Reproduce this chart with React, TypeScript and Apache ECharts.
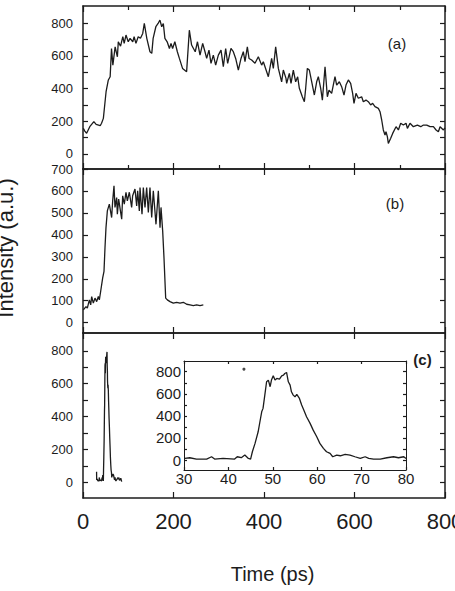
import React, { useEffect, useRef } from 'react';
import * as echarts from 'echarts';

// ---- Data (time in ps, intensity in a.u.) ----
const panelAData: [number, number][] = [
  [0.7,157],[4,140],[8,127],[15,167],[24,198],[29,181],[38,173],[41,188],[45,218],[48,300],[51,381],[56,453],[60,473],[63,646],[66,544],[71,656],[76,595],[78,687],[83,660],[88,718],[91,677],[95,728],[100,687],[104,708],[110,687],[113,718],[117,677],[122,718],[127,708],[132,738],[135.5,799],[141,708],[148,626],[152,616],[155,708],[161,779],[166,799],[170,820],[174,779],[177.5,799],[181,708],[186,687],[191,646],[194.5,677],[198,646],[203,687],[208.5,626],[213,585],[220,524],[229,504],[235,758],[240,667],[248,626],[253,687],[258.6,605],[264.5,677],
  [269.6,626],[273.3,585],[278.4,636],[282.9,555],[288,605],[293.2,544],[299.1,605],[305,636],[310.1,534],[315.3,646],[319.7,555],[327,646],[332.2,626],[337.4,585],[343.3,514],[349.2,585],[354.3,626],[358,565],[363.2,656],[366.9,585],[372.7,575],[380.1,555],[387.5,595],[394.8,544],[398.5,565],[409.6,473],[416.9,585],[420.6,524],[425.8,656],[431.7,524],[439,442],[442.7,514],[448.6,463],[450.1,432],[456,493],[459.7,432],[464.8,514],[470,442],[474.4,473],[478.1,402],[484.7,350],[489.2,320],[492.1,402],[495.8,524],[500.2,514],[506.9,422],[511.3,361],[516.4,442],[520.1,473],[525.3,402],[529,330],[534.9,534],[540,350],[543.7,391],
  [549.5,371],[556.9,473],[560.6,422],[566.5,442],[571.6,412],[576.8,361],[581.2,422],[586.4,453],[591.5,432],[595.9,371],[598.9,310],[603.3,371],[608.5,341],[615.8,350],[619.5,320],[625.4,330],[630.5,320],[635.7,300],[640.1,310],[645.3,290],[652.7,279],[656.4,259],[660.1,208],[663.7,147],[667.4,116],[669.6,136],[672.6,106],[674.8,65],[680,96],[684.4,126],[691.8,167],[697,147],[702.1,188],[708,177],[713.9,188],[716.9,157],[722.7,188],[730.1,167],[739,177],[746.4,167],[752.3,177],[759.6,177],[767,167],[774.4,167],[780.3,147],[785.4,136],[789.1,167],[796.5,147],[800,160]
];

const panelBData: [number, number][] = [
  [0.7,58],[6.6,73],[9.6,66],[14,104],[17,81],[19.2,119],[22.8,89],[26.5,112],[30.2,96],[33.9,119],[36.1,104],[39,142],[43.5,204],[46.4,234],[48.6,341],[50.8,433],[53.8,509],[58.2,540],[63.3,479],[65.6,555],[68.5,624],[70.7,525],[74.4,570],[75.9,494],[78.8,563],[85.5,471],[87.7,578],[91.3,540],[95,594],[98,555],[102.4,594],[107.5,525],[109.7,578],[114.9,609],[118.6,532],[120.8,601],[124.5,509],[126,616],[130.4,494],[133.3,616],[137,525],[140.7,616],[144.4,502],[148,616],[151.8,479],[155.4,601],[161.3,448],[166.5,601],[170.2,433],[172.4,525],[176.1,417],[179,295],[182.7,112],[186.4,104],[192.3,96],[199.6,89],[207,93],[214.4,89],[221.7,93],[229.1,84],[236.5,81],[243.8,78],[251.2,81],[258.6,78],[265.9,81]
];

const panelCData: [number, number][] = [
  [30.2,15],[31.3,21],[32.8,9],[35.1,9],[36.2,30],[36.9,9],[38.8,15],[41.4,9],[42,30],[42.9,21],[43.7,45],[44.5,15],[45,9],[45.4,75],[46,151],[46.7,256],[47.1,347],[47.5,437],[47.8,468],[48.2,588],[48.6,709],[49,724],[49.4,664],[49.7,724],[50.1,763],[50.5,724],[50.9,739],[51.5,733],[52,763],[52.4,769],[52.7,784],[53.1,793],[53.5,709],[53.9,679],[54.2,618],[54.6,588],[55,573],[55.4,594],[56,558],[56.5,498],[57,452],[57.6,392],[58.4,332],[59.1,271],[59.9,211],[60.6,151],[61.4,106],[62.1,75],[62.9,60],[63.5,30],[64.4,45],[65.2,39],[66.3,51],[67.4,45],[68.5,30],[69.7,15],[70.8,30],[71.6,15],[72.7,9],[74.2,9],[75.7,21],[77.2,30],[78.3,21],[79.5,30],[80,15]
];
const panelCHead: [number, number][] = [[30, 64]];
const panelCTail: [number, number][] = [[81.7,14],[83.5,25],[85.5,5]];
const insetDot: [number, number][] = [[43.5, 823]];

const timeTicks = [0, 200, 400, 600, 800];
const aYLabels = [0, 200, 400, 600, 800];
const aYTicks = [0, 100, 200, 300, 400, 500, 600, 700, 800];
const bYLabels = [0, 100, 200, 300, 400, 500, 600, 700];
const cYLabels = [0, 200, 400, 600, 800];
const cYTicks = [0, 100, 200, 300, 400, 500, 600, 700, 800];
const insetXTicks = [30, 40, 50, 60, 70, 80];
const insetYLabels = [0, 200, 400, 600, 800];
const insetYTicks = [0, 100, 200, 300, 400, 500, 600, 700, 800];

const INK = '#1c1c1c';
const FONT = '"Liberation Sans", Arial, Helvetica, sans-serif';

export default function App() {
  const ref = useRef<HTMLDivElement>(null);
  useEffect(() => {
    if (!ref.current) return;
    const chart = echarts.init(ref.current, null, { renderer: 'svg' });

    const line = { show: true, onZero: false, lineStyle: { color: INK, width: 1.5 } };
    const thinLine = { show: true, onZero: false, lineStyle: { color: INK, width: 1 } };
    const tick = (len: number, vals?: number[]) => ({
      show: true, inside: true, length: len, lineStyle: { color: INK, width: 1.2 },
      ...(vals ? { customValues: vals } : {}),
    });
    const noLabel = { show: false };

    const mkX = (gridIndex: number, position: string, extra: any = {}) => ({
      type: 'value', gridIndex, position, min: 0, max: 800, interval: 200,
      axisLine: line, splitLine: { show: false }, axisTick: tick(6), axisLabel: noLabel,
      ...extra,
    });
    const mkY = (gridIndex: number, position: string, min: number, max: number, ticks: number[], labels: number[] | null) => ({
      type: 'value', gridIndex, position, min, max,
      axisLine: line, splitLine: { show: false }, axisTick: tick(5, ticks),
      axisLabel: labels
        ? { show: true, customValues: labels, margin: 10, fontSize: 13, color: INK, fontFamily: FONT }
        : noLabel,
    });

    const minor = { show: true, splitNumber: 2, length: 4, lineStyle: { color: INK, width: 1.2 } };

    const option: any = {
      animation: false,
      backgroundColor: '#ffffff',
      grid: [
        { left: 83, width: 362, top: 6, height: 163, outerBoundsMode: 'none', containLabel: false },
        { left: 83, width: 362, top: 169, height: 164, outerBoundsMode: 'none', containLabel: false },
        { left: 83, width: 362, top: 333, height: 165, outerBoundsMode: 'none', containLabel: false },
        { left: 184, width: 222, top: 361, height: 109, show: true, backgroundColor: '#ffffff', borderWidth: 0, z: 5, outerBoundsMode: 'none', containLabel: false },
      ],
      xAxis: [
        mkX(0, 'bottom', { minorTick: minor }),
        mkX(0, 'top', { minorTick: minor }),
        mkX(1, 'bottom'),
        mkX(1, 'top'),
        mkX(2, 'bottom', {
          axisLabel: { show: true, customValues: timeTicks, margin: 12, fontSize: 22, color: INK, fontFamily: FONT, alignMinLabel: 'center', alignMaxLabel: 'center' },
        }),
        mkX(2, 'top'),
        {
          type: 'value', gridIndex: 3, position: 'bottom', min: 30, max: 80, interval: 10,
          axisLine: thinLine, splitLine: { show: false }, axisTick: tick(3, insetXTicks),
          axisLabel: { show: true, customValues: insetXTicks, margin: 1, fontSize: 15, color: INK, fontFamily: FONT },
          z: 6,
        },
        {
          type: 'value', gridIndex: 3, position: 'top', min: 30, max: 80, interval: 10,
          axisLine: thinLine, splitLine: { show: false }, axisTick: tick(3, insetXTicks), axisLabel: noLabel, z: 6,
        },
      ],
      yAxis: [
        mkY(0, 'left', -92, 906, aYTicks, aYLabels),
        mkY(0, 'right', -92, 906, aYTicks, null),
        mkY(1, 'left', -47, 700, bYLabels, bYLabels),
        mkY(1, 'right', -47, 700, bYLabels, null),
        mkY(2, 'left', -95, 908, cYTicks, cYLabels),
        mkY(2, 'right', -95, 908, cYTicks, null),
        {
          type: 'value', gridIndex: 3, position: 'left', min: -90, max: 897,
          axisLine: thinLine, splitLine: { show: false }, axisTick: tick(3, insetYTicks),
          axisLabel: { show: true, customValues: insetYLabels, margin: 3, fontSize: 15, color: INK, fontFamily: FONT },
          z: 6,
        },
        {
          type: 'value', gridIndex: 3, position: 'right', min: -90, max: 897,
          axisLine: thinLine, splitLine: { show: false }, axisTick: tick(3, insetYTicks), axisLabel: noLabel, z: 6,
        },
      ],
      series: [
        {
          type: 'line', xAxisIndex: 0, yAxisIndex: 0, data: panelAData, showSymbol: false,
          lineStyle: { color: INK, width: 1.3 },
        },
        {
          type: 'line', xAxisIndex: 2, yAxisIndex: 2, data: panelBData, showSymbol: false,
          lineStyle: { color: INK, width: 1.3 },
        },
        {
          type: 'line', xAxisIndex: 4, yAxisIndex: 4, data: [...panelCHead, ...panelCData, ...panelCTail], showSymbol: false,
          lineStyle: { color: INK, width: 1.3 },
        },
        {
          type: 'line', xAxisIndex: 6, yAxisIndex: 6, data: panelCData, showSymbol: false,
          lineStyle: { color: INK, width: 1.3 }, z: 7,
        },
        {
          type: 'scatter', xAxisIndex: 6, yAxisIndex: 6, data: insetDot, symbolSize: 3,
          itemStyle: { color: INK }, z: 7,
        },
      ],
      graphic: [
        { type: 'text', x: 397, y: 43.5, style: { text: '(a)', fontSize: 15, fontFamily: FONT, fill: INK, textAlign: 'center', textVerticalAlign: 'middle', align: 'center', verticalAlign: 'middle' } },
        { type: 'text', x: 395, y: 203.5, style: { text: '(b)', fontSize: 15, fontFamily: FONT, fill: INK, textAlign: 'center', textVerticalAlign: 'middle', align: 'center', verticalAlign: 'middle' } },
        { type: 'text', x: 422.5, y: 359, style: { text: '(c)', fontSize: 15, fontWeight: 'bold', fontFamily: FONT, fill: INK, textAlign: 'center', textVerticalAlign: 'middle', align: 'center', verticalAlign: 'middle' } },
        { type: 'text', x: 272.5, y: 574, style: { text: 'Time (ps)', fontSize: 20, fontFamily: FONT, fill: INK, textAlign: 'center', textVerticalAlign: 'middle', align: 'center', verticalAlign: 'middle' } },
        { type: 'text', x: 5, y: 248, rotation: Math.PI / 2, style: { text: 'Intensity (a.u.)', fontSize: 22, fontFamily: FONT, fill: INK, textAlign: 'center', textVerticalAlign: 'middle', align: 'center', verticalAlign: 'middle' } },
      ],
    };
    chart.setOption(option);
    return () => chart.dispose();
  }, []);
  return <div ref={ref} style={{ position: 'fixed', left: 0, top: 0, width: 455, height: 591 }} />;
}
